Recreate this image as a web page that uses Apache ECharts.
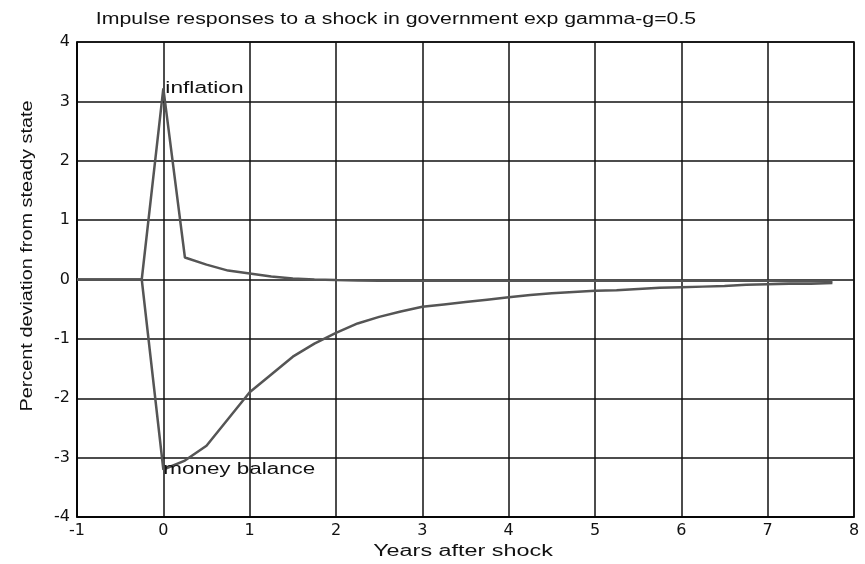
<!DOCTYPE html>
<html>
<head>
<meta charset="utf-8">
<script src="https://cdn.jsdelivr.net/npm/echarts@6/dist/echarts.min.js"></script>
<style>html,body{margin:0;padding:0;background:#fff}#c{width:865px;height:564px}</style>
</head>
<body>
<div id="c"></div>
<script>
const years = [-1,-0.75,-0.5,-0.25,0,0.25,0.5,0.75,1,1.25,1.5,1.75,2,2.25,2.5,2.75,3,3.25,3.5,3.75,4,4.25,4.5,4.75,5,5.25,5.5,5.75,6,6.25,6.5,6.75,7,7.25,7.5,7.75];
const inflation = [0,0,0,0,3.22,0.37,0.25,0.15,0.1,0.05,0.015,0,-0.01,-0.015,-0.02,-0.02,-0.02,-0.02,-0.02,-0.02,-0.02,-0.02,-0.02,-0.02,-0.02,-0.02,-0.02,-0.02,-0.02,-0.02,-0.02,-0.02,-0.02,-0.03,-0.03,-0.03];
const moneyBalance = [0,0,0,0,-3.2,-3.05,-2.8,-2.35,-1.9,-1.6,-1.3,-1.08,-0.9,-0.74,-0.63,-0.54,-0.46,-0.42,-0.38,-0.34,-0.3,-0.26,-0.23,-0.21,-0.19,-0.18,-0.16,-0.14,-0.13,-0.12,-0.11,-0.09,-0.08,-0.07,-0.07,-0.06];
const xTicks = [-1,0,1,2,3,4,5,6,7,8];
const yTicks = [-4,-3,-2,-1,0,1,2,3,4];
const titleText = 'Impulse responses to a shock in government exp gamma-g=0.5';
const xName = 'Years after shock';
const yName = 'Percent deviation from steady state';
const labelAt = 0; // year at which the series names are written

const font = '"Liberation Sans", Arial, sans-serif';
const tickFont = '"DejaVu Sans", sans-serif';
const pairs = vals => years.map((x, i) => [x, vals[i]]);

const chart = echarts.init(document.getElementById('c'), null, {renderer: 'canvas'});
chart.setOption({
  animation: false,
  backgroundColor: '#fff',
  grid: {left: 77, right: 11, top: 42, bottom: 47, show: true, borderColor: '#000', borderWidth: 1.5, backgroundColor: '#fff'},
  xAxis: {
    type: 'value', min: xTicks[0], max: xTicks[xTicks.length-1], interval: 1,
    axisLine: {show: true, onZero: false, lineStyle: {color: '#000', width: 1.5}},
    axisTick: {show: false},
    axisLabel: {fontFamily: tickFont, fontSize: 16, color: '#111', margin: 6},
    splitLine: {show: true, lineStyle: {color: '#111', width: 1.5}}
  },
  yAxis: {
    type: 'value', min: yTicks[0], max: yTicks[yTicks.length-1], interval: 1,
    axisLine: {show: true, onZero: false, lineStyle: {color: '#000', width: 1.5}},
    axisTick: {show: false},
    axisLabel: {fontFamily: tickFont, fontSize: 16, color: '#111', margin: 7},
    splitLine: {show: true, lineStyle: {color: '#111', width: 1.5}}
  },
  series: [
    {type: 'line', name: 'inflation', data: pairs(inflation), showSymbol: false, symbol: 'none',
      lineStyle: {color: '#555', width: 2.5}, z: 3},
    {type: 'line', name: 'money balance', data: pairs(moneyBalance), showSymbol: false, symbol: 'none',
      lineStyle: {color: '#555', width: 2.5}, z: 3}
  ]
});

// text, stretched horizontally like the original
const idx = years.indexOf(labelAt);
const pInf = chart.convertToPixel({gridIndex: 0}, [labelAt, inflation[idx]]);
const pMon = chart.convertToPixel({gridIndex: 0}, [labelAt, moneyBalance[idx]]);
function txt(text, x, y, sx, opts) {
  return Object.assign({
    type: 'text', x: x, y: y, scaleX: sx, z: 100,
    style: {text: text, font: '16px ' + font, fill: '#111', textAlign: 'center', textVerticalAlign: 'middle'}
  }, opts || {});
}
chart.setOption({
  graphic: [
    txt(titleText, 396, 20, 1.33),
    txt(xName, 463, 552, 1.46),
    txt(yName, 28, 256, 1.24, {rotation: Math.PI / 2}),
    txt('inflation', pInf[0] + 2, pInf[1], 1.42, {style: {text: 'inflation', font: '16px ' + font, fill: '#111', textAlign: 'left', textVerticalAlign: 'middle'}}),
    txt('money balance', pMon[0], pMon[1], 1.4, {style: {text: 'money balance', font: '16px ' + font, fill: '#111', textAlign: 'left', textVerticalAlign: 'middle'}})
  ]
});
</script>
</body>
</html>
